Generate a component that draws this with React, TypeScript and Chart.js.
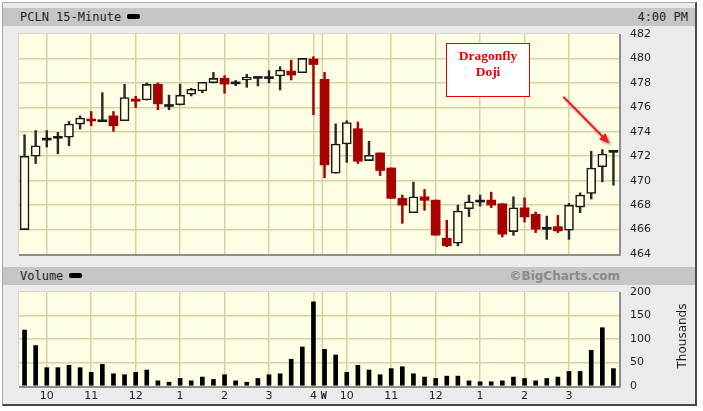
import React, { useEffect, useRef } from 'react';
import { Chart, registerables } from 'chart.js';

Chart.register(...registerables);

// ---------------- data ----------------
const dayTimes = ['9:30','9:45','10:00','10:15','10:30','10:45','11:00','11:15','11:30','11:45','12:00','12:15','12:30','12:45','1:00','1:15','1:30','1:45','2:00','2:15','2:30','2:45','3:00','3:15','3:30','3:45','4:00'];
const tradingDays = ['Tue', 'Wed'];
const categories = tradingDays.flatMap((d) => dayTimes.map((t) => `${d} ${t}`));

const opens = [466.0,472.0,473.4,473.55,473.55,474.63,475.0,474.9,475.3,474.9,476.68,476.6,477.88,476.15,476.2,477.07,477.34,478.0,478.37,478.0,478.24,478.45,478.43,478.56,478.97,478.83,479.95,
  478.29,470.61,473.0,474.25,471.64,472.27,471.04,468.55,467.38,468.68,468.41,465.29,464.88,467.71,468.33,468.41,468.11,465.83,467.78,467.25,466.1,466.24,465.94,467.84,468.95,471.13,472.4];
const highs = [473.76,474.1,474.1,473.95,474.85,475.3,475.66,477.2,475.66,477.88,476.9,478.0,478.0,477.0,477.9,477.56,478.05,478.86,478.6,478.2,478.7,478.45,479.0,479.32,479.86,480.0,480.14,
  478.86,474.65,474.9,474.8,473.22,472.27,471.04,468.82,469.88,469.28,468.41,466.76,468.0,468.82,468.82,469.06,468.11,468.68,468.6,467.44,467.1,467.16,468.14,469.0,472.4,472.54,472.4];
const lows = [466.0,471.4,472.75,472.2,472.85,474.22,474.5,474.85,474.03,474.9,475.98,476.6,475.8,475.8,476.2,476.93,477.2,478.0,477.15,477.77,477.64,477.75,478.0,477.42,478.24,478.83,475.39,
  470.23,470.61,471.5,471.4,471.64,470.42,468.55,466.51,467.38,467.57,465.54,464.6,464.67,467.06,467.92,467.8,465.4,465.53,466.62,465.75,465.2,465.75,465.2,467.38,468.5,469.9,469.63];
const closes = [472.0,472.86,473.4,473.55,474.63,475.12,474.93,474.9,474.49,476.8,476.5,477.88,476.28,476.15,477.0,477.48,478.05,478.37,477.9,478.0,478.45,478.45,478.43,479.05,478.64,480.0,479.5,
  471.29,473.0,474.76,471.59,472.08,470.83,468.55,468.0,468.68,468.39,465.54,464.67,467.51,468.27,468.33,468.0,465.62,467.78,467.03,466.03,466.1,465.89,468.0,468.82,471.04,472.18,472.4];
// volume, thousands of shares
const volumes = [119,86,39,39,44,39,29,46,26,24,29,34,11,8,16,11,19,14,24,11,8,16,24,26,57,83,179,
  78,66,29,44,34,24,37,41,26,19,16,21,21,11,9,9,11,19,16,11,16,19,31,31,76,124,37];

const priceMin = 464;
const priceMax = 482;
const priceStep = 2;
const volMin = 0;
const volMax = 200;
const volStep = 50;

const dayMarkLabel = 'W';
const noteLines = ['Dragonfly', 'Doji'];

// ---------------- layout / style ----------------
const W = 703;
const H = 411;
const PLOT_LEFT = 19;
const PLOT_RIGHT = 619;
const PRICE_TOP = 34;
const PRICE_BOTTOM = 254;
const VOL_TOP = 292;
const VOL_BOTTOM = 386;
const SEPARATOR_AT = 26.8; // category position of the day break line
const NOTE_BOX = { x0: 37.93, x1: 45.52, y0: 481.23, y1: 476.81 };
const ARROW = { x0: 48.49, y0: 476.86, x1: 52.63, y1: 473.05 };

const PLOT_BG = '#fefee4';
const GRID = '#d3d3a2';
const RED = '#a60000';
const INK = '#1a1a1a';
const TICK_COLOR = '#1e1e1e';
const axisFont = { family: 'DejaVu Sans', size: 11 };

const isHourSlot = (i: number) => {
  if (i < 0 || i >= categories.length - 1) return false;
  const t = categories[i].split(' ')[1];
  return t.endsWith(':00');
};
const hourLabel = (i: number) => (isHourSlot(i) ? categories[i].split(' ')[1].split(':')[0] : '');
const direction = (i: number) => (closes[i] > opens[i] ? 1 : closes[i] < opens[i] ? -1 : 0);

const vGridColor = (ctx: any) => (isHourSlot(ctx.index) ? GRID : 'rgba(0,0,0,0)');

const plotFrame = {
  id: 'plotFrame',
  beforeDraw(chart: any) {
    const { ctx, chartArea: a } = chart;
    ctx.save();
    ctx.fillStyle = PLOT_BG;
    ctx.fillRect(a.left, a.top, a.right - a.left, a.bottom - a.top);
    ctx.fillStyle = '#d4d4d4';
    ctx.fillRect(a.left - 1, a.top - 1, a.right - a.left + 1, 1);
    ctx.fillRect(a.left - 1, a.top - 1, 1, a.bottom - a.top + 1);
    ctx.fillStyle = '#8e8e8e';
    ctx.fillRect(a.right, a.top, 2, a.bottom - a.top + 2);
    ctx.fillRect(a.left, a.bottom, a.right - a.left + 2, 2);
    ctx.restore();
  },
};

const daySeparator = {
  id: 'daySeparator',
  beforeDatasetsDraw(chart: any) {
    const { ctx, chartArea: a } = chart;
    const x = chart.scales.x.getPixelForValue(SEPARATOR_AT);
    ctx.save();
    ctx.strokeStyle = GRID;
    ctx.lineWidth = 1.5;
    ctx.beginPath();
    ctx.moveTo(x, a.top);
    ctx.lineTo(x, a.bottom);
    ctx.stroke();
    ctx.restore();
  },
};

const noteAnnotation = {
  id: 'noteAnnotation',
  afterDatasetsDraw(chart: any) {
    const { ctx } = chart;
    const xs = chart.scales.x;
    const ys = chart.scales.y;
    const bx0 = Math.round(xs.getPixelForValue(NOTE_BOX.x0));
    const bx1 = Math.round(xs.getPixelForValue(NOTE_BOX.x1));
    const by0 = Math.round(ys.getPixelForValue(NOTE_BOX.y0));
    const by1 = Math.round(ys.getPixelForValue(NOTE_BOX.y1));
    ctx.save();
    ctx.fillStyle = '#ffffff';
    ctx.fillRect(bx0, by0, bx1 - bx0, by1 - by0);
    ctx.strokeStyle = '#e60000';
    ctx.lineWidth = 1;
    ctx.strokeRect(bx0 + 0.5, by0 + 0.5, bx1 - bx0 - 1, by1 - by0 - 1);
    ctx.fillStyle = '#e60000';
    ctx.font = 'bold 13.5px "Liberation Serif", "DejaVu Serif", serif';
    ctx.textAlign = 'center';
    ctx.textBaseline = 'middle';
    const cx = (bx0 + bx1) / 2;
    noteLines.forEach((line, k) => ctx.fillText(line, cx, by0 + 13.5 + k * 15.6));

    // arrow
    const ax0 = xs.getPixelForValue(ARROW.x0);
    const ay0 = ys.getPixelForValue(ARROW.y0);
    const ax1 = xs.getPixelForValue(ARROW.x1);
    const ay1 = ys.getPixelForValue(ARROW.y1);
    const ang = Math.atan2(ay1 - ay0, ax1 - ax0);
    const headLen = 10;
    const headW = 4.5;
    ctx.shadowColor = 'rgba(0,0,0,0.35)';
    ctx.shadowBlur = 3;
    ctx.shadowOffsetX = 2;
    ctx.shadowOffsetY = 2;
    ctx.strokeStyle = '#ee1c1c';
    ctx.fillStyle = '#ee1c1c';
    ctx.lineWidth = 2;
    ctx.beginPath();
    ctx.moveTo(ax0, ay0);
    ctx.lineTo(ax1 - Math.cos(ang) * headLen * 0.8, ay1 - Math.sin(ang) * headLen * 0.8);
    ctx.stroke();
    ctx.beginPath();
    ctx.moveTo(ax1, ay1);
    ctx.lineTo(ax1 - Math.cos(ang) * headLen - Math.sin(ang) * headW, ay1 - Math.sin(ang) * headLen + Math.cos(ang) * headW);
    ctx.lineTo(ax1 - Math.cos(ang) * headLen + Math.sin(ang) * headW, ay1 - Math.sin(ang) * headLen - Math.cos(ang) * headW);
    ctx.closePath();
    ctx.fill();
    ctx.restore();
  },
};

const volumeExtras = {
  id: 'volumeExtras',
  afterDraw(chart: any) {
    const { ctx } = chart;
    const xs = chart.scales.x;
    const sx = xs.getPixelForValue(SEPARATOR_AT);
    ctx.save();
    ctx.fillStyle = TICK_COLOR;
    ctx.font = 'bold 10px "DejaVu Sans Mono"';
    ctx.textAlign = 'center';
    ctx.textBaseline = 'middle';
    ctx.fillText(dayMarkLabel, sx + 1.5, xs.top + 4 + 6.6);
    ctx.font = '12px "DejaVu Sans"';
    ctx.translate(683, 336);
    ctx.rotate(-Math.PI / 2);
    ctx.fillText('Thousands', 0, 0);
    ctx.restore();
  },
};

function priceConfig(): any {
  const bodies = opens.map((o, i) => {
    const c = closes[i];
    if (Math.abs(c - o) < 0.16) {
      const m = (o + c) / 2;
      return [m - 0.08, m + 0.08];
    }
    return [o, c];
  });
  const wicks = lows.map((l, i) => [l, highs[i]]);
  return {
    type: 'bar',
    data: {
      labels: categories,
      datasets: [
        {
          label: 'body',
          data: bodies,
          grouped: false,
          order: 0,
          barThickness: 9,
          borderSkipped: false,
          backgroundColor: opens.map((_, i) => (direction(i) > 0 ? PLOT_BG : direction(i) < 0 ? RED : INK)),
          borderColor: opens.map((_, i) => (direction(i) < 0 ? RED : INK)),
          borderWidth: opens.map((_, i) => (direction(i) > 0 && Math.abs(closes[i] - opens[i]) >= 0.16 ? 1.6 : 0)),
        },
        {
          label: 'wick',
          data: wicks,
          grouped: false,
          order: 1,
          barThickness: 1.8,
          borderSkipped: false,
          borderWidth: 0,
          backgroundColor: opens.map((_, i) => (direction(i) < 0 ? RED : '#2a2a2a')),
        },
      ],
    },
    options: {
      animation: false,
      responsive: false,
      devicePixelRatio: 1,
      events: [],
      layout: { padding: { left: PLOT_LEFT, top: PRICE_TOP, right: 0, bottom: 0 } },
      plugins: { legend: { display: false }, tooltip: { enabled: false } },
      scales: {
        x: {
          type: 'category',
          offset: true,
          grid: { offset: false, color: vGridColor, lineWidth: 1.5, drawTicks: false },
          border: { display: false },
          ticks: { display: false, autoSkip: false },
          afterFit: (s: any) => { s.height = H - PRICE_BOTTOM; },
        },
        y: {
          position: 'right',
          min: priceMin,
          max: priceMax,
          ticks: { stepSize: priceStep, padding: 11, font: axisFont, color: TICK_COLOR },
          grid: {
            drawTicks: false,
            lineWidth: 1.5,
            color: (ctx: any) => (ctx.tick && (ctx.tick.value === priceMin || ctx.tick.value === priceMax) ? 'rgba(0,0,0,0)' : GRID),
          },
          border: { display: false },
          afterFit: (s: any) => { s.width = W - PLOT_RIGHT; },
        },
      },
    },
    plugins: [plotFrame, daySeparator, noteAnnotation],
  };
}

function volumeConfig(): any {
  return {
    type: 'bar',
    data: {
      labels: categories,
      datasets: [
        {
          label: 'Volume',
          data: volumes,
          barThickness: 4,
          backgroundColor: '#000000',
          borderWidth: 0,
        },
      ],
    },
    options: {
      animation: false,
      responsive: false,
      devicePixelRatio: 1,
      events: [],
      layout: { padding: { left: PLOT_LEFT, top: VOL_TOP, right: 0, bottom: 0 } },
      plugins: { legend: { display: false }, tooltip: { enabled: false } },
      scales: {
        x: {
          type: 'category',
          offset: true,
          grid: { offset: false, color: vGridColor, lineWidth: 1.5, drawTicks: false },
          border: { display: false },
          ticks: {
            autoSkip: false,
            maxRotation: 0,
            padding: 4,
            font: axisFont,
            color: TICK_COLOR,
            callback: (_v: any, i: number) => hourLabel(i),
          },
          afterFit: (s: any) => { s.height = H - VOL_BOTTOM; },
        },
        y: {
          position: 'right',
          min: volMin,
          max: volMax,
          ticks: { stepSize: volStep, padding: 11, font: axisFont, color: TICK_COLOR },
          grid: {
            drawTicks: false,
            lineWidth: 1.5,
            color: (ctx: any) => (ctx.tick && (ctx.tick.value === volMin || ctx.tick.value === volMax) ? 'rgba(0,0,0,0)' : GRID),
          },
          border: { display: false },
          afterFit: (s: any) => { s.width = W - PLOT_RIGHT; },
        },
      },
    },
    plugins: [plotFrame, daySeparator, volumeExtras],
  };
}

const barText: React.CSSProperties = {
  position: 'absolute',
  top: 0,
  height: 18,
  lineHeight: '18px',
  fontFamily: '"DejaVu Sans Mono", monospace',
  fontSize: 12,
  color: '#222',
  whiteSpace: 'nowrap',
};

const legendDash: React.CSSProperties = {
  display: 'inline-block',
  width: 13,
  height: 5,
  borderRadius: 2,
  background: '#000',
  marginLeft: 6,
  verticalAlign: 'middle',
  position: 'relative',
  top: -1,
};

export default function App() {
  const priceRef = useRef<HTMLCanvasElement>(null);
  const volRef = useRef<HTMLCanvasElement>(null);

  useEffect(() => {
    const pc = new Chart(priceRef.current as HTMLCanvasElement, priceConfig());
    const vc = new Chart(volRef.current as HTMLCanvasElement, volumeConfig());
    return () => {
      pc.destroy();
      vc.destroy();
    };
  }, []);

  return (
    <div style={{ position: 'fixed', left: 0, top: 0, width: W, height: H, background: '#ffffff', overflow: 'hidden' }}>
      <div
        style={{
          position: 'absolute', left: 2, top: 2, width: 692, height: 401, background: '#ebebeb',
          borderLeft: '1px solid #a8a8a8', borderTop: '1px solid #a8a8a8',
          borderRight: '2px solid #4a4a4a', borderBottom: '2px solid #4a4a4a',
        }}
      />
      <div style={{ position: 'absolute', left: 3, top: 8, width: 692, height: 18, background: '#c6c6c6' }}>
        <div style={{ ...barText, left: 17 }}>
          PCLN 15-Minute<span style={legendDash} />
        </div>
        <div style={{ ...barText, right: 7 }}>4:00 PM</div>
      </div>
      <div style={{ position: 'absolute', left: 3, top: 267, width: 692, height: 18, background: '#c6c6c6' }}>
        <div style={{ ...barText, left: 17 }}>
          Volume<span style={legendDash} />
        </div>
        <div
          style={{
            ...barText, right: 75, fontFamily: '"DejaVu Sans", sans-serif', fontWeight: 'bold', fontSize: 12, color: '#8a8a8a',
          }}
        >
          ©BigCharts.com
        </div>
      </div>
      <canvas ref={priceRef} width={W} height={H} style={{ position: 'absolute', left: 0, top: 0, width: W, height: H }} />
      <canvas ref={volRef} width={W} height={H} style={{ position: 'absolute', left: 0, top: 0, width: W, height: H }} />
    </div>
  );
}
